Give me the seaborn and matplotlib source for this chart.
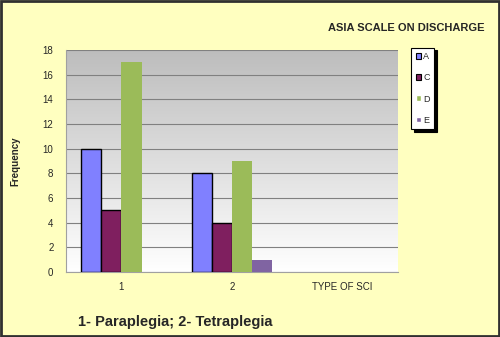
import numpy as np
import pandas as pd
import matplotlib
matplotlib.use("Agg")
import matplotlib.pyplot as plt
import seaborn as sns
from matplotlib.patches import Rectangle

# data
sci_type = ["1", "1", "1", "1", "2", "2", "2", "2"]
asia = ["A", "C", "D", "E", "A", "C", "D", "E"]
freq = [10, 5, 17, 0, 8, 4, 9, 1]
cat_order = ["1", "2", "TYPE OF SCI"]
hue_order = ["A", "C", "D", "E"]
colors = ["#8080FF", "#7F1F5F", "#9BBB59", "#8064A2"]
yticks = [0, 2, 4, 6, 8, 10, 12, 14, 16, 18]

df = pd.DataFrame({"type": sci_type, "grade": asia, "freq": freq})

sns.set_style("white")
plt.rcParams["font.family"] = ["Liberation Sans", "DejaVu Sans"]

fig = plt.figure(figsize=(5, 3.37), dpi=100)
fig.patch.set_facecolor("#FFFFC0")
ax = fig.add_axes([0.132, 0.193, 0.664, 0.659])

# gray gradient plot area: white at bottom, gray at top
t = np.linspace(0, 1, 256).reshape(-1, 1, 1)
bottom = np.array([1.0, 1.0, 1.0])
top = np.array([0.74, 0.74, 0.74])
grad = bottom + (top - bottom) * t
ax.imshow(grad, extent=[0, 1, 0, 1], transform=ax.transAxes,
          aspect="auto", zorder=0, origin="lower")

sns.barplot(data=df, x="type", y="freq", hue="grade", order=cat_order,
            hue_order=hue_order, palette=colors, width=0.73, ax=ax,
            saturation=1, legend=True, zorder=3)

# black edges on A and C only
for cont, g in zip(ax.containers, hue_order):
    for bar in cont:
        if g in ("A", "C"):
            bar.set_edgecolor("black")
            bar.set_linewidth(1.0)
        else:
            bar.set_linewidth(0)

ax.set_ylim(0, 18)
ax.set_xlim(-0.5, 2.5)
ax.set_yticks(yticks)
ax.yaxis.grid(True, color="#808080", linewidth=0.8, zorder=1)
ax.set_axisbelow(True)
ax.tick_params(axis="y", labelsize=7, length=3, direction="out", color="#808080", pad=6)
ax.tick_params(axis="x", labelsize=7, length=0, pad=7)
ax.set_xticks([-0.5, 0.5, 1.5, 2.5], minor=True)
ax.tick_params(axis="x", which="minor", length=3, color="#808080", direction="out")
for s in ["top", "right"]:
    ax.spines[s].set_visible(False)
for s in ["left", "bottom"]:
    ax.spines[s].set_color("#A0A0A0")
    ax.spines[s].set_linewidth(0.8)
ax.set_xlabel("")
ax.set_ylabel("Frequency", fontsize=7, fontweight="bold", labelpad=16)

handles, labels = ax.get_legend_handles_labels()
leg = ax.legend(handles, labels, loc="upper left", bbox_to_anchor=(1.04, 1.01),
                fontsize=6.5, frameon=True, fancybox=False,
                shadow={"color": "black", "alpha": 1, "ox": 2, "oy": -2},
                handlelength=0.6, handleheight=0.6, handletextpad=0.25,
                labelspacing=1.35, borderpad=0.5, borderaxespad=0, edgecolor="black")
leg.get_frame().set_linewidth(0.8)
for h, g in zip(leg.legend_handles, hue_order):
    if g in ("A", "C"):
        h.set_edgecolor("black")
        h.set_linewidth(0.8)

fig.text(0.968, 0.918, "ASIA SCALE ON DISCHARGE", ha="right", va="center",
         fontsize=8, fontweight="bold")
fig.text(0.156, 0.045, "1- Paraplegia; 2- Tetraplegia", ha="left", va="center",
         fontsize=10.5, fontweight="bold")

fig.patches.append(Rectangle((0.002, 0.003), 0.996, 0.994, transform=fig.transFigure,
                             fill=False, edgecolor="#303030", linewidth=2, zorder=10))

fig.savefig("out.png", dpi=100, facecolor=fig.get_facecolor())
